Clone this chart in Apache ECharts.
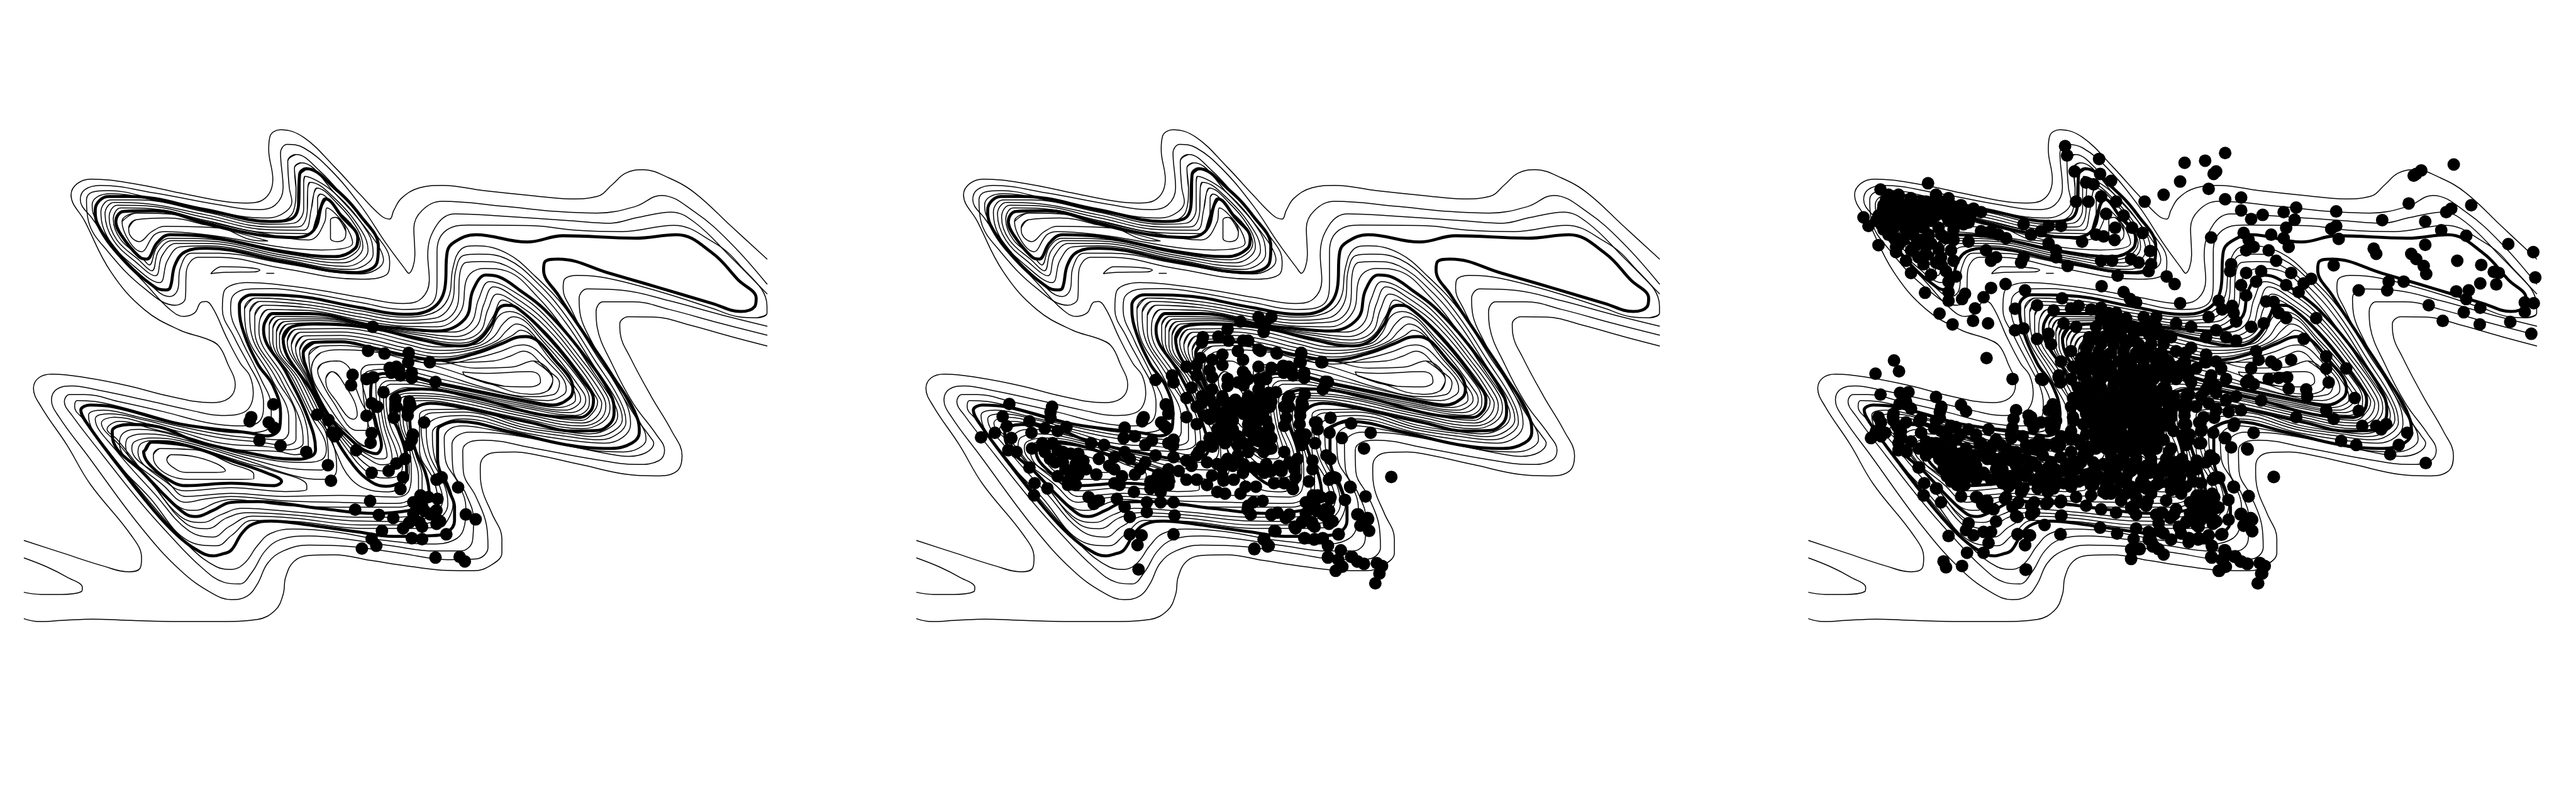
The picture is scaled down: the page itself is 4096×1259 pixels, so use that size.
<!DOCTYPE html>
<html><head><meta charset="utf-8">
<script src="https://cdn.jsdelivr.net/npm/echarts@6/dist/echarts.min.js"></script>
<style>html,body{margin:0;padding:0;background:#fff}#c{width:4096px;height:1259px}</style></head>
<body><div id="c"></div>
<script>
const thinContours = [
[[47,1265],[120,1300],[200,1338],[250,1355],[272,1345],[275,1315],[255,1250],[175,1102],[130,990],[80,880],[65,827],[75,797],[100,786],[170,797],[250,820],[330,850],[410,868],[445,855],[457,817],[442,755],[425,705],[400,684],[350,660],[280,600],[215,491],[165,347],[138,270],[150,238],[177,225],[260,238],[350,265],[430,288],[475,294],[515,280],[530,225],[522,140],[525,100],[545,83],[590,105],[650,190],[700,270],[740,330],[757,340],[765,315],[780,280],[815,250],[859,243],[940,258],[1030,272],[1109,282],[1160,275],[1190,240],[1215,208],[1249,198],[1300,222],[1350,265],[1420,360],[1490,455]],
[[47,1315],[90,1340],[130,1370],[160,1400],[158,1412],[120,1420],[80,1420],[47,1414]],
[[47,1490],[75,1498],[120,1495],[180,1491],[240,1494],[300,1497],[370,1498],[430,1498],[500,1492],[535,1465],[550,1420],[555,1370],[571,1325],[600,1308],[650,1306],[720,1322],[800,1340],[870,1351],[920,1352],[955,1335],[975,1300],[975,1260],[955,1185],[937,1120],[933,1060],[938,1028],[960,1012],[1000,1010],[1040,1018],[1130,1047],[1220,1075],[1274,1079],[1315,1065],[1325,1020],[1305,950],[1265,850],[1225,740],[1205,670],[1204,642],[1221,621],[1270,622],[1340,645],[1420,678],[1490,705]],
[[1490,674],[1400,640],[1300,600],[1230,578],[1172,578],[1158,606],[1160,650],[1190,760],[1230,870],[1275,960],[1291,1005],[1280,1035],[1239,1046],[1150,1030],[1040,1000],[938,976],[913,981],[899,1005],[900,1065],[925,1140],[945,1220],[948,1285],[925,1318],[870,1320],[780,1302],[680,1282],[600,1278],[550,1295],[520,1330],[500,1390],[480,1425],[450,1435],[410,1415],[350,1350],[274,1227],[170,1020],[115,910],[100,860],[110,830],[140,820],[190,832],[280,860],[370,890],[430,905],[475,895],[492,840],[485,790],[467,755],[440,680],[415,600],[400,577],[390,580],[378,610],[357,620],[330,600],[285,530],[230,440],[180,340],[156,284],[165,255],[195,243],[300,265],[425,299],[500,313],[535,299],[550,250],[545,150],[558,125],[590,135],[640,195],[700,300],[750,410],[785,480],[794,496],[806,443],[804,366],[820,315],[859,289],[984,304],[1080,318],[1159,323],[1234,304],[1284,272],[1350,320],[1420,410],[1490,527]],
[[1490,648],[1400,615],[1300,575],[1210,545],[1141,541],[1125,569],[1128,620],[1145,680],[1190,800],[1235,910],[1262,965],[1270,985],[1255,1012],[1221,1023],[1180,1015],[1080,985],[980,958],[913,953],[889,963],[878,989],[880,1060],[905,1130],[920,1205],[918,1265],[895,1295],[845,1295],[760,1280],[680,1262],[600,1252],[545,1262],[515,1295],[490,1355],[465,1390],[435,1385],[390,1340],[330,1250],[270,1150],[200,1020],[140,905],[125,865],[135,845],[165,845],[230,865],[320,895],[400,925],[470,935],[505,920],[512,870],[505,820],[482,755],[455,680],[432,600],[435,549],[480,523],[600,540],[700,565],[784,583],[819,568],[834,515],[831,443],[849,356],[884,325],[960,330],[1110,345],[1184,352],[1240,335],[1304,320],[1350,350],[1420,450],[1490,555]],
[[1490,590],[1490,611],[1470,624],[1434,621],[1384,597],[1284,550],[1180,510],[1120,502],[1096,515],[1094,540],[1110,600],[1134,668],[1190,790],[1225,880],[1252,950],[1255,975],[1240,1000],[1211,1010],[1150,1005],[1050,975],[950,945],[899,935],[875,943],[863,969],[865,1030],[890,1100],[905,1170],[900,1235],[880,1265],[840,1275],[750,1265],[650,1240],[570,1232],[525,1245],[500,1280],[475,1330],[450,1348],[420,1340],[370,1285],[300,1170],[220,1025],[165,920],[145,880],[150,862],[185,865],[270,895],[370,935],[470,955],[520,945],[527,900],[525,860],[510,810],[492,755],[470,690],[448,600],[450,568],[480,542],[525,540],[600,553],[700,580],[784,600],[839,583],[849,515],[849,433],[864,376],[909,357],[1034,359],[1120,372],[1209,376],[1309,358],[1384,405],[1434,467],[1490,590]],
[[575,154],[559,174],[562,250],[567,290],[545,328],[510,337],[425,320],[300,282],[210,258],[180,262],[168,284],[172,347],[210,434],[280,539],[341,588],[360,568],[362,491],[385,450],[425,450],[550,482],[700,513],[750,501],[757,462],[745,414],[675,289],[620,200],[575,154]],
[[585,178],[572,193],[575,250],[570,318],[535,347],[450,332],[310,289],[215,267],[190,275],[179,299],[182,328],[225,425],[280,510],[330,563],[345,544],[350,482],[372,438],[425,438],[550,467],[700,498],[745,458],[725,395],[650,265],[585,178]],
[[592,217],[590,235],[590,310],[570,352],[525,355],[400,320],[270,285],[215,285],[196,320],[212,400],[260,475],[310,523],[325,460],[350,420],[400,417],[550,456],[680,485],[725,440],[715,380],[650,265],[592,217]],
[[602,234],[598,250],[597,315],[580,362],[525,363],[400,328],[280,295],[222,292],[204,325],[220,400],[265,465],[302,503],[315,445],[342,410],[400,410],[550,450],[672,476],[715,430],[703,375],[650,280],[602,234]],
[[615,251],[610,265],[605,310],[590,372],[525,371],[400,336],[285,302],[228,300],[212,335],[227,400],[270,458],[295,489],[308,432],[335,402],[400,403],[550,444],[665,466],[705,420],[695,370],[655,295],[615,251]],
[[622,268],[617,280],[617,305],[600,382],[525,380],[400,344],[293,310],[235,308],[220,340],[235,400],[275,450],[290,472],[305,420],[330,395],[400,397],[550,438],[657,457],[700,410],[685,360],[655,315],[622,268]],
[[237,347],[265,323],[325,325],[400,347],[500,378],[600,400],[631,347],[635,308],[670,356],[685,409],[625,429],[400,385],[320,376],[300,385],[275,434],[237,347]],
[[250,366],[265,342],[325,337],[400,357],[520,403],[490,400],[425,366],[320,361],[295,376],[270,405],[252,385],[250,366]],
[[645,337],[652,335],[672,376],[670,395],[655,405],[642,395],[642,342],[645,337]],
[[410,496],[430,477],[465,478],[505,487],[495,492],[440,493],[410,497]],
[[518,496],[532,496]],
[[475,598],[497,567],[600,578],[700,604],[784,622],[838,612],[870,570],[880,480],[895,428],[924,417],[984,438],[1040,505],[1100,600],[1160,735],[1210,850],[1225,930],[1210,968],[1175,985],[1100,975],[1019,955],[900,915],[865,925],[840,955],[845,1030],[870,1100],[880,1160],[872,1200],[855,1225],[800,1230],[700,1230],[575,1210],[490,1207],[450,1250],[421,1280],[365,1265],[290,1140],[215,1020],[172,905],[200,890],[270,910],[350,937],[430,960],[501,971],[547,975],[561,951],[561,915],[528,800],[478,660],[475,598]],
[[485,608],[505,577],[600,587],[700,613],[784,631],[845,625],[880,570],[885,490],[900,445],[929,441],[985,455],[1045,525],[1100,620],[1155,745],[1202,855],[1216,925],[1200,958],[1165,975],[1100,965],[1019,947],[900,905],[855,910],[828,945],[835,1020],[862,1100],[870,1160],[862,1190],[840,1212],[790,1220],[700,1220],[575,1201],[490,1195],[445,1225],[414,1255],[365,1235],[300,1130],[225,1005],[185,915],[212,900],[280,918],[350,945],[430,970],[505,982],[554,991],[575,973],[575,915],[537,800],[487,660],[485,608]],
[[495,618],[513,588],[600,595],[700,622],[784,640],[855,635],[890,580],[893,500],[905,465],[934,462],[985,475],[1045,545],[1100,640],[1155,765],[1197,860],[1209,917],[1192,950],[1155,966],[1100,957],[1019,940],[900,895],[838,898],[818,925],[825,1010],[852,1100],[860,1150],[850,1180],[825,1202],[780,1210],[700,1209],[575,1192],[480,1185],[440,1200],[403,1231],[360,1215],[300,1110],[235,995],[197,927],[222,910],[290,930],[350,952],[430,985],[519,995],[561,1004],[589,984],[584,924],[545,800],[495,660],[495,618]],
[[505,628],[522,600],[600,603],[700,631],[784,648],[850,650],[897,600],[905,520],[918,492],[941,482],[985,490],[1045,565],[1100,665],[1155,785],[1193,870],[1200,906],[1185,940],[1145,958],[1100,952],[1019,933],[900,887],[835,888],[815,905],[815,1005],[842,1090],[850,1145],[838,1170],[810,1190],[770,1198],[700,1198],[575,1183],[470,1172],[430,1190],[393,1213],[350,1195],[290,1090],[228,975],[208,945],[232,922],[300,945],[370,970],[440,1000],[540,1009],[575,1018],[599,998],[596,938],[553,800],[503,660],[505,628]],
[[523,645],[538,620],[620,622],[722,647],[820,663],[880,665],[915,640],[930,570],[951,520],[1005,555],[1060,620],[1130,745],[1178,845],[1185,885],[1170,925],[1130,943],[1019,915],[855,865],[825,862],[796,870],[790,914],[807,1015],[820,1080],[820,1115],[799,1160],[764,1169],[659,1169],[554,1164],[449,1147],[421,1155],[379,1178],[350,1170],[300,1100],[232,985],[240,955],[270,945],[350,966],[484,1021],[590,1040],[624,1033],[634,1004],[602,900],[569,800],[523,680],[523,645]],
[[530,655],[545,628],[620,627],[722,649],[820,669],[885,678],[925,650],[940,585],[959,535],[1000,565],[1060,635],[1130,760],[1170,845],[1177,878],[1165,918],[1130,935],[1019,908],[855,858],[815,855],[785,865],[783,914],[802,1015],[813,1080],[813,1115],[792,1151],[764,1158],[659,1155],[554,1151],[449,1138],[400,1145],[361,1155],[320,1110],[244,992],[250,968],[285,958],[350,972],[484,1029],[580,1060],[624,1062],[638,1035],[634,960],[608,900],[575,800],[530,690],[530,655]],
[[537,665],[553,635],[620,632],[722,651],[820,675],[890,688],[932,665],[948,600],[966,556],[1005,585],[1060,650],[1130,775],[1163,850],[1169,871],[1158,910],[1130,927],[1019,901],[855,851],[805,848],[778,860],[777,914],[797,1015],[799,1071],[795,1120],[771,1140],[659,1135],[554,1138],[449,1129],[361,1138],[325,1095],[256,1000],[262,980],[295,970],[350,978],[484,1037],[570,1078],[624,1089],[648,1080],[654,1058],[645,978],[615,900],[581,800],[537,700],[537,665]],
[[596,1107],[596,1118],[554,1124],[449,1113],[361,1122],[330,1105],[268,1010],[275,985],[305,977],[350,984],[484,1045],[519,1058],[596,1107]],
[[543,675],[560,642],[620,638],[722,652],[820,682],[890,697],[930,680],[958,620],[976,573],[1000,590],[1060,665],[1130,790],[1157,850],[1161,866],[1150,900],[1130,919],[1019,895],[855,845],[795,841],[768,860],[771,914],[792,1015],[795,1070],[785,1105],[755,1125],[720,1120],[680,1085],[650,1000],[621,900],[586,800],[543,700],[543,675]],
[[298,1018],[312,1000],[379,1004],[449,1044],[493,1075],[493,1087],[449,1089],[379,1089],[333,1080],[298,1027],[298,1018]],
[[324,1031],[333,1018],[372,1022],[421,1044],[438,1064],[414,1069],[361,1069],[333,1051],[324,1031]],
[[558,692],[576,657],[662,655],[722,665],[785,688],[855,708],[925,700],[950,670],[968,620],[990,606],[1060,690],[1135,820],[1145,860],[1140,890],[1118,905],[1019,883],[855,834],[790,825],[768,835],[750,860],[757,929],[777,1000],[782,1050],[772,1080],[748,1085],[715,1070],[673,1000],[631,904],[595,800],[558,692]],
[[566,702],[584,666],[662,665],[722,676],[785,699],[855,718],[925,707],[958,680],[978,640],[997,621],[1060,700],[1129,830],[1138,860],[1130,885],[1107,897],[1019,878],[855,829],[790,815],[760,815],[745,840],[750,929],[768,1000],[774,1040],[765,1062],[745,1065],[715,1050],[681,1000],[633,904],[598,800],[566,702]],
[[574,710],[592,676],[662,675],[722,687],[785,710],[855,727],[925,713],[965,690],[985,660],[1003,642],[1060,715],[1122,834],[1128,860],[1118,880],[1097,890],[1019,873],[855,824],[790,805],[755,805],[737,830],[745,929],[759,1000],[762,1032],[755,1045],[741,1047],[718,1032],[689,1000],[635,904],[600,800],[574,710]],
[[582,718],[600,686],[662,685],[722,698],[785,720],[855,737],[925,720],[972,692],[995,675],[1011,660],[1070,745],[1115,834],[1118,860],[1105,876],[1085,882],[1019,868],[855,818],[780,795],[745,795],[730,815],[738,929],[750,1000],[752,1022],[745,1030],[736,1030],[715,1018],[697,1000],[637,904],[603,800],[582,718]],
[[600,731],[625,705],[662,704],[715,713],[785,742],[855,757],[925,740],[970,722],[1000,705],[1017,702],[1070,760],[1100,829],[1095,845],[1065,862],[1029,858],[855,800],[757,772],[715,778],[705,808],[706,850],[715,929],[725,985],[720,1000],[705,990],[690,975],[630,880],[600,731]],
[[605,770],[610,745],[624,724],[660,716],[715,720],[806,740],[889,752],[959,748],[990,735],[1017,720],[1060,770],[1087,813],[1075,845],[1029,851],[941,825],[854,785],[790,765],[746,758],[715,760],[701,782],[711,856],[729,953],[727,986],[715,996],[694,982],[638,876],[605,770]],
[[1036,748],[1074,803],[1064,834],[1029,844],[941,808],[854,766],[800,745],[836,745],[924,769],[994,766],[1036,748]],
[[899,780],[905,792],[980,821],[1029,823],[1050,808],[1046,787],[1029,779],[941,784],[899,780]],
[[617,775],[627,755],[655,748],[677,765],[687,808],[700,860],[715,914],[711,948],[694,948],[645,861],[620,794],[617,775]],
[[633,798],[645,779],[662,799],[694,904],[687,916],[652,861],[633,808],[633,798]]
];
const thickContours = [
[[595,195],[582,212],[580,299],[565,340],[525,347],[400,313],[250,275],[210,275],[185,313],[190,356],[240,458],[300,535],[320,544],[330,539],[340,472],[360,434],[400,424],[550,462],[690,494],[732,467],[735,419],[700,330],[650,251],[595,195]],
[[632,282],[625,299],[610,371],[575,393],[500,385],[400,352],[300,316],[240,318],[225,347],[235,385],[270,448],[285,455],[305,409],[330,385],[400,390],[550,433],[650,448],[690,424],[695,395],[665,335],[632,282]],
[[1184,496],[1284,539],[1384,583],[1439,606],[1466,592],[1469,568],[1434,515],[1384,438],[1314,385],[1234,395],[1094,388],[1024,406],[924,385],[884,405],[869,433],[864,540],[834,602],[784,614],[700,595],[560,560],[490,558],[465,588],[470,650],[500,755],[530,818],[545,900],[543,942],[519,964],[484,955],[350,930],[220,880],[175,875],[157,890],[170,930],[230,1050],[300,1180],[344,1249],[380,1290],[414,1309],[431,1304],[449,1293],[470,1244],[491,1218],[526,1209],[589,1218],[694,1240],[764,1253],[837,1251],[869,1241],[883,1208],[883,1169],[872,1121],[850,1030],[850,953],[854,937],[889,922],[994,953],[1099,989],[1186,1000],[1228,984],[1242,953],[1239,917],[1186,782],[1134,668],[1085,560],[1056,486],[1059,462],[1084,455],[1184,496]],
[[515,636],[530,612],[600,612],[720,645],[784,655],[850,662],[904,626],[919,544],[944,501],[969,506],[1009,544],[1059,602],[1134,730],[1186,844],[1193,896],[1186,927],[1162,948],[1116,950],[1029,925],[889,880],[836,870],[808,883],[796,914],[806,1000],[827,1073],[834,1136],[820,1165],[799,1178],[729,1187],[624,1173],[501,1153],[449,1155],[414,1178],[380,1196],[360,1188],[320,1135],[280,1073],[220,980],[218,950],[250,931],[309,938],[379,978],[484,1013],[571,1031],[603,1024],[613,1004],[596,904],[557,784],[512,659],[515,636]],
[[550,684],[568,649],[610,642],[722,654],[820,688],[890,705],[925,693],[954,645],[969,597],[984,588],[1004,595],[1064,678],[1134,808],[1153,860],[1148,891],[1127,911],[1064,906],[924,855],[819,829],[785,833],[760,856],[759,892],[774,948],[788,1015],[790,1073],[778,1097],[750,1109],[722,1097],[687,1049],[645,953],[610,847],[550,684]],
[[591,750],[589,726],[610,695],[662,693],[715,707],[785,731],[855,746],[925,726],[977,697],[1005,680],[1022,678],[1081,751],[1113,829],[1106,855],[1074,875],[1029,865],[855,813],[757,784],[730,790],[722,808],[720,847],[731,929],[741,991],[731,1015],[708,1005],[690,986],[638,904],[591,750]],
[[282,1005],[295,982],[361,991],[449,1035],[519,1071],[547,1095],[533,1107],[449,1100],[361,1107],[337,1098],[295,1053],[279,1009],[282,1005]]
];
// samples visible in the first panel (read in the first crop's scale)
const samplesFirst = [[715,719],[747,727],[794,725],[793,752],[835,752],[757,768],[770,765],[760,782],[775,772],[778,790],[800,797],[800,782],[846,809],[685,788],[682,818],[712,800],[725,795],[745,838],[768,858],[795,865],[770,880],[733,880],[722,870],[792,890],[797,875],[792,905],[712,906],[765,912],[824,925],[802,960],[800,975],[795,990],[722,956],[720,984],[692,1005],[787,1030],[770,1043],[722,1070],[755,1065],[783,1083],[778,1117],[848,1090],[858,1083],[890,1112],[531,873],[488,910],[485,922],[522,925],[532,940],[504,977],[545,992],[595,1010],[616,903],[638,918],[645,955],[655,955],[650,965],[637,1048],[643,1093],[719,1151],[690,1176],[736,1191],[764,1200],[803,1155],[817,1135],[832,1140],[850,1145],[810,1165],[820,1165],[825,1180],[848,1178],[803,1187],[836,1190],[850,1205],[855,1210],[848,1217],[795,1213],[815,1212],[820,1225],[783,1230],[742,1237],[867,1247],[905,1190],[924,1204],[800,1258],[820,1261],[722,1260],[731,1280],[703,1288],[846,1314],[893,1312],[903,1325],[724,650]];
// samples added in the second panel (read in the second crop's scale)
const samplesSecond = [[236,872],[319,880],[316,895],[316,912],[223,908],[231,936],[208,955],[181,968],[275,922],[279,955],[305,942],[330,950],[347,938],[240,970],[234,1005],[250,1010],[280,1000],[305,1010],[275,1055],[285,1100],[310,1115],[284,1135],[320,985],[330,1005],[315,1030],[340,1020],[355,1015],[365,1045],[345,1060],[330,1080],[350,1095],[370,1075],[380,1035],[395,985],[420,990],[410,1030],[440,1025],[460,1010],[430,1050],[455,1080],[490,1060],[480,1075],[460,940],[458,970],[480,965],[495,915],[540,875],[545,900],[537,935],[500,990],[545,985],[555,975],[520,1020],[555,1025],[580,1035],[600,1020],[610,995],[590,1050],[565,1065],[545,1085],[520,1090],[545,1105],[510,1115],[530,1125],[478,1125],[450,1105],[580,1090],[600,1090],[620,1105],[630,1078],[640,1125],[655,1130],[685,1130],[695,1110],[715,1110],[672,1090],[650,1080],[690,1070],[710,1055],[735,1045],[760,1050],[770,1010],[750,1100],[770,1100],[785,1110],[765,1065],[790,1060],[818,1095],[825,1060],[825,1035],[860,1085],[870,1085],[898,1110],[928,1138],[978,1082],[685,635],[720,622],[745,622],[733,640],[730,665],[660,657],[612,680],[642,678],[610,695],[662,690],[690,690],[700,690],[720,715],[755,725],[680,720],[690,745],[607,740],[630,745],[650,730],[580,765],[600,760],[625,775],[650,760],[630,795],[600,790],[660,800],[690,780],[720,765],[745,768],[768,762],[780,770],[803,725],[800,750],[842,752],[520,803],[552,790],[555,810],[590,825],[580,855],[610,850],[625,860],[600,880],[580,910],[600,930],[630,830],[650,850],[660,820],[680,810],[700,800],[735,800],[720,830],[740,840],[700,850],[745,865],[720,880],[700,880],[730,895],[680,890],[660,880],[640,895],[625,915],[650,925],[670,920],[700,910],[715,930],[640,945],[660,945],[680,965],[625,970],[630,995],[655,985],[680,990],[700,950],[740,940],[745,970],[725,980],[700,1010],[730,1010],[745,1000],[660,1030],[640,1045],[680,1020],[780,850],[770,880],[810,845],[845,830],[850,808],[770,935],[800,930],[830,925],[835,945],[860,912],[900,928],[938,955],[882,970],[858,955],[800,960],[805,985],[830,985],[852,1020],[860,1030],[925,1000],[390,1140],[400,1160],[410,1150],[445,1145],[460,1168],[470,1197],[503,1155],[503,1183],[530,1155],[555,1155],[557,1193],[470,1247],[493,1250],[555,1247],[485,1278],[487,1348],[700,1165],[710,1155],[705,1190],[745,1190],[757,1185],[815,1155],[835,1135],[860,1140],[888,1148],[820,1175],[850,1175],[850,1195],[860,1210],[790,1225],[805,1210],[825,1220],[780,1190],[753,1238],[730,1262],[738,1282],[712,1290],[810,1258],[828,1262],[845,1258],[875,1247],[855,1280],[880,1293],[855,1312],[875,1320],[900,1312],[912,1325],[925,1332],[950,1330],[960,1338],[955,1360],[947,1388],[883,1340],[870,1352],[912,1190],[932,1200],[935,1237],[918,1222],
[610,870],[635,875],[655,865],[675,860],[690,870],[712,860],[730,850],[615,905],[660,905],[690,900],[725,880],[735,920],[710,905],[650,960],[670,945],[700,930],[720,955],[690,985],[660,970],[640,975],[710,975],[735,960],[300,985],[325,1040],[340,1040],[355,1075],[340,1010],[370,1015],[385,1060],[405,1075],[350,1105],[365,1105],[440,1100],[510,1095],[530,1100],[525,1075],[545,1060],[500,1040],[470,1030],[440,1060],[620,1040],[650,1055],[670,1050],[690,1045],[720,1060],[745,1065],[780,1040]];
// samples added in the third panel (read in the third crop's scale)
const samplesThird = [[209,255],[304,237],[175,335],[185,360],[205,415],[240,435],[270,495],[298,552],[327,612],[353,643],[394,633],[424,640],[398,597],[415,565],[430,538],[459,527],[345,550],[345,575],[372,570],[378,555],[345,520],[330,470],[310,500],[295,470],[260,460],[240,420],[225,270],[245,270],[270,280],[240,290],[215,300],[260,310],[290,295],[320,270],[345,280],[370,300],[395,310],[410,320],[205,330],[225,340],[250,340],[275,335],[300,320],[335,310],[360,320],[380,330],[210,355],[235,365],[260,375],[280,360],[310,345],[345,345],[375,355],[225,385],[255,400],[290,400],[310,410],[340,395],[350,430],[270,430],[300,440],[330,450],[410,375],[430,375],[445,385],[460,395],[385,405],[420,430],[440,450],[430,460],[495,355],[510,385],[530,375],[545,360],[570,360],[495,450],[490,465],[545,410],[560,430],[560,450],[583,475],[578,130],[582,157],[646,167],[597,203],[648,210],[620,235],[635,240],[670,230],[600,290],[625,290],[650,275],[680,290],[660,325],[695,330],[678,365],[712,365],[733,380],[640,385],[655,390],[612,405],[677,400],[737,290],[748,432],[710,455],[725,465],[750,470],[745,490],[650,460],[672,460],[683,503],[781,505],[797,527],[817,178],[858,172],[898,150],[875,210],[880,203],[808,232],[865,253],[775,270],[1280,210],[1290,200],[1275,215],[1355,183],[1265,295],[1390,300],[1350,310],[1340,320],[1298,347],[1212,343],[1120,318],[1040,307],[1015,320],[973,328],[1037,342],[930,278],[898,283],[930,315],[950,340],[1020,365],[1120,360],[1110,368],[1330,372],[1125,397],[870,393],[935,380],[990,385],[1015,395],[945,400],[955,420],[1025,420],[1380,388],[1298,414],[1464,412],[1514,435],[1195,425],[1200,440],[1270,440],[1280,455],[1362,460],[1295,475],[1300,498],[1410,472],[1435,492],[1445,495],[1518,508],[1115,473],[1225,520],[1222,545],[1255,520],[1165,545],[1305,588],[1360,548],[1385,545],[1380,570],[1408,525],[1440,528],[1408,595],[1375,608],[1333,633],[1407,643],[1468,636],[1497,580],[1515,582],[1497,607],[1510,670],[910,470],[908,490],[940,430],[985,430],[1000,460],[970,490],[1030,495],[1055,525],[1070,512],[1020,530],[1045,550],[940,495],[960,520],[930,530],[940,560],[980,577],[995,578],[1020,625],[1005,610],[975,640],[950,650],[1080,625],[885,575],[912,590],[915,610],[920,635],[892,600],[865,622],[808,582],[498,545],[572,568],[651,533],[695,550],[708,570],[720,580],[478,598],[522,588],[555,603],[590,597],[605,590],[630,600],[650,595],[478,660],[495,655],[522,685],[545,670],[575,640],[550,700],[600,650],
[660,625],[680,630],[700,625],[640,650],[665,650],[690,650],[715,650],[740,640],[760,650],[640,675],[665,675],[690,675],[715,675],[745,670],[770,675],[625,700],[650,700],[675,700],[700,700],[725,700],[750,700],[775,700],[620,725],[645,725],[670,725],[695,725],[720,725],[745,725],[770,725],[610,750],[635,750],[660,750],[685,750],[710,750],[735,750],[760,750],[785,750],[620,775],[645,775],[670,775],[695,775],[720,775],[745,775],[770,775],[620,800],[650,800],[675,800],[700,800],[725,800],[755,800],[780,800],[625,825],[650,825],[675,825],[700,825],[725,825],[750,825],[775,825],[615,850],[640,850],[665,850],[690,850],[715,850],[740,850],[765,850],[790,850],[610,875],[635,875],[660,875],[685,875],[710,875],[735,875],[760,875],[620,900],[645,900],[670,900],[695,900],[720,900],[745,900],[770,900],[625,925],[650,925],[675,925],[700,925],[725,925],[750,925],[775,925],[640,950],[665,950],[690,950],[715,950],[740,950],[765,950],[650,975],[675,975],[700,975],[725,975],[750,975],[775,975],[660,1000],[690,1000],
[590,720],[610,740],[570,750],[600,770],[565,795],[530,800],[590,800],[800,640],[830,650],[860,680],[880,660],[900,680],[920,690],[790,680],[800,720],[830,710],[860,730],[880,750],[890,770],[810,760],[840,770],[800,800],[830,810],[860,830],[880,840],[920,850],[970,862],[940,810],[960,720],[965,745],[950,770],[990,750],[1000,760],[1030,745],[1055,685],[1100,735],[1100,770],[1140,770],[1105,810],[1060,830],[1025,828],[1022,795],[1005,797],[985,800],[945,803],[955,815],[1062,850],[1157,855],[1100,890],[1165,892],[1040,910],[1115,915],[1172,935],[1200,935],[1220,930],[1210,945],[1262,955],[1130,978],[1160,990],[1245,990],[1228,1017],[1299,1042],[880,890],[905,895],[930,890],[915,935],[855,910],[850,950],[955,955],[820,850],[800,870],[790,900],[820,930],[850,985],[897,970],[910,997],[943,1003],[995,1082],[199,785],[236,747],[246,778],[421,740],[473,800],[209,845],[248,840],[265,838],[320,852],[370,875],[380,893],[260,865],[270,885],[235,900],[205,910],[210,925],[200,950],[210,965],[190,970],[235,920],[260,925],[250,950],[290,915],[330,885],[320,920],[350,935],[385,945],[290,955],[245,985],[260,1005],[285,1000],[300,1020],[285,1055],[330,950],[360,975],[400,960],[425,945],[440,975],[480,890],[475,915],[505,905],[515,940],[550,945],[545,890],[595,920],[590,950],[590,880],[470,960],[500,990],[450,990],[320,985],[350,1000],[380,1000],[410,1020],[340,1030],[370,1040],[430,1030],[400,1050],[360,1070],[385,1080],[350,1095],[440,1060],[470,1035],[500,1030],[530,1010],[560,995],[590,1010],[610,990],[640,1000],[520,1050],[550,1040],[580,1050],[610,1040],[640,1050],[670,1020],[700,1010],[730,1000],[760,1000],[790,1000],[820,985],[470,1080],[500,1080],[530,1075],[560,1085],[590,1080],[620,1075],[650,1085],[680,1075],[710,1065],[740,1050],[770,1060],[800,1040],[830,1070],[860,1040],[880,1085],[465,1110],[495,1115],[525,1110],[555,1115],[590,1110],[630,1105],[660,1110],[700,1100],[730,1095],[760,1105],[795,1090],[820,1110],[850,1100],[872,1130],[915,1110],[945,1137],[295,1135],[320,1115],[330,1155],[370,1138],[400,1140],[420,1170],[435,1175],[440,1210],[460,1140],[490,1125],[485,1155],[510,1165],[540,1160],[570,1150],[600,1140],[630,1135],[660,1130],[690,1150],[720,1140],[750,1130],[780,1150],[810,1130],[840,1140],[860,1160],[885,1170],[480,1195],[510,1190],[570,1195],[620,1165],[650,1175],[680,1185],[710,1170],[740,1165],[770,1185],[800,1175],[830,1190],[850,1205],[875,1215],[905,1205],[930,1188],[935,1222],[952,1205],[952,1238],[345,1252],[385,1215],[380,1235],[395,1250],[415,1240],[430,1240],[425,1272],[382,1300],[415,1300],[335,1325],[340,1342],[372,1338],[483,1247],[508,1250],[498,1278],[537,1220],[569,1247],[499,1349],[648,1228],[682,1245],[720,1230],[715,1260],[710,1290],[720,1290],[710,1318],[745,1240],[750,1265],[765,1215],[775,1245],[790,1262],[775,1305],[765,1290],[810,1245],[825,1270],[845,1258],[865,1250],[890,1248],[872,1282],[898,1293],[870,1312],[895,1315],[918,1310],[930,1325],[943,1332],[968,1330],[975,1338],[970,1360],[963,1388],[897,1340],[885,1352],
[220,285],[235,310],[250,295],[265,295],[280,310],[300,290],[315,300],[330,290],[350,300],[360,305],[375,315],[200,345],[220,325],[240,320],[255,325],[290,340],[320,330],[340,330],[365,340],[390,325],[215,370],[245,350],[265,350],[295,365],[325,365],[355,370],[385,350],[240,395],[275,385],[305,385],[330,385],[355,400],[245,415],[280,415],[325,425],[300,420],[320,465],[285,450],[355,460],[340,490],[360,505],[270,980],[300,980],[340,965],[370,960],[410,985],[430,1000],[460,1000],[480,1010],[510,1000],[540,990],[570,975],[620,1020],[300,1000],[330,1010],[360,1020],[395,1020],[420,1010],[450,1040],[480,1050],[510,1040],[540,1060],[570,1065],[600,1060],[630,1070],[335,1060],[370,1055],[415,1070],[450,1075],[485,1065],[515,1090],[545,1095],[575,1100],[605,1095],[640,1090],[430,1090],[480,1100],[400,1090],[660,1050],[690,1040],[720,1030],[750,1030],[780,1030],[670,1060],[700,1085],[735,1080],[765,1080],[800,1070],[820,1050],[680,1120],[710,1120],[740,1115],[790,1120],[600,975],[620,960],[590,975],[570,965],[560,920],[530,925],[680,610],[650,625],[665,610],[705,650],[680,660],[730,660],[750,680],[650,690],[620,712],[640,740],[700,740],[730,740],[755,735],[775,740],[615,765],[660,790],[690,790],[735,790],[770,790],[640,815],[715,815],[745,815],[630,840],[655,840],[680,840],[705,840],[730,840],[755,840],[625,865],[675,865],[725,865],[750,865],[780,865],[630,890],[660,890],[710,890],[755,890],[635,915],[690,915],[740,915],[765,915],[650,940],[680,940],[730,940],[755,940],[785,925],[660,965],[710,965],[760,965],[795,950],[680,990],[715,990],[745,1000],[820,770],[870,790],[900,800],[850,850],[880,820],[840,880],[865,870],[900,860],[780,830]];

const FRAME = 1568, PANEL_W = 1283.4, PANEL_H = 866.3, PANEL_STEP = 1419.1, PANEL_TOP = 160.4;
const THIN = 1.5, THICK = 4.8, DOT = 20;
// crop scale of each sample list -> common scale
const fromSecond = p => [p[0] - 9, p[1]];
const fromThird = p => [(p[0] - 18) / 1.00855, p[1]];
const first = samplesFirst;
const second = first.concat(samplesSecond.map(fromSecond));
const third = second.concat(samplesThird.map(fromThird));
const panelSamples = [first, second, third];
// loops overlap their first two segments so the smoothed curve has no corner at its seam
const seam = c => {
  const a = c[0], z = c[c.length - 1];
  return (a[0] === z[0] && a[1] === z[1] && c.length > 3) ? c.concat(c.slice(1, 3)) : c;
};

const grid = [], xAxis = [], yAxis = [], series = [];
panelSamples.forEach((pts, i) => {
  grid.push({ left: PANEL_STEP * i, top: PANEL_TOP, width: PANEL_W, height: PANEL_H, containLabel: false });
  xAxis.push({ type: 'value', gridIndex: i, min: 0, max: FRAME, show: false });
  yAxis.push({ type: 'value', gridIndex: i, min: 0, max: FRAME, inverse: true, show: false });
  const line = (data, w) => ({ type: 'line', xAxisIndex: i, yAxisIndex: i, data: seam(data), smooth: 0.4, smoothMonotone: null,
    showSymbol: false, symbol: 'none', clip: false, silent: true, z: 2,
    lineStyle: { color: '#000', width: w, cap: 'round', join: 'round' } });
  thinContours.forEach(c => series.push(line(c, THIN)));
  thickContours.forEach(c => series.push(line(c, THICK)));
  series.push({ type: 'scatter', xAxisIndex: i, yAxisIndex: i, data: pts, symbol: 'circle', symbolSize: DOT,
    clip: false, silent: true, z: 5, itemStyle: { color: '#000', opacity: 1 } });
});
const chart = echarts.init(document.getElementById('c'), null, { renderer: 'canvas' });
chart.setOption({ animation: false, backgroundColor: '#fff', grid, xAxis, yAxis, series, tooltip: { show: false }, legend: { show: false } });
</script></body></html>
